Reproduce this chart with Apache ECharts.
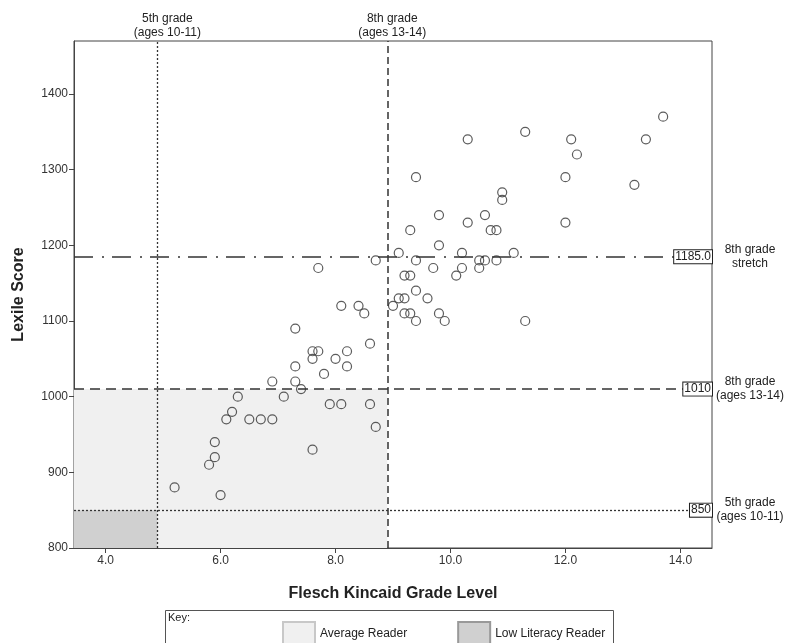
<!DOCTYPE html>
<html>
<head>
<meta charset="utf-8">
<script src="https://cdn.jsdelivr.net/npm/echarts@6/dist/echarts.min.js"></script>
<style>html,body{margin:0;padding:0;background:#fff}#c{width:791px;height:643px}</style>
</head>
<body>
<div id="c"></div>
<script>
// Flesch Kincaid grade level (x) and Lexile score (y) for each text
var gradeLevel = [5.2,5.8,5.9,5.9,6.0,6.1,6.2,6.3,6.5,6.7,6.9,6.9,7.1,7.3,7.3,7.3,7.4,7.6,7.6,7.6,7.7,7.7,7.8,7.9,8.0,8.1,8.1,8.2,8.2,8.4,8.5,8.6,8.6,8.7,8.7,9.0,9.1,9.1,9.2,9.2,9.2,9.3,9.3,9.3,9.4,9.4,9.4,9.4,9.6,9.7,9.8,9.8,9.8,9.9,10.1,10.2,10.2,10.3,10.3,10.5,10.5,10.6,10.6,10.7,10.8,10.8,10.9,10.9,11.1,11.3,11.3,12.0,12.0,12.1,12.2,13.2,13.4,13.7];
var lexileScore = [880,910,920,940,870,970,980,1000,970,970,970,1020,1000,1020,1040,1090,1010,930,1050,1060,1060,1170,1030,990,1050,990,1120,1040,1060,1120,1110,990,1070,960,1180,1120,1130,1190,1110,1130,1160,1110,1160,1220,1100,1140,1180,1290,1130,1170,1110,1200,1240,1100,1160,1170,1190,1230,1340,1170,1180,1180,1240,1220,1180,1220,1260,1270,1190,1100,1350,1230,1290,1340,1320,1280,1340,1370];

var xTicks = [4, 6, 8, 10, 12, 14];
var yTicks = [800, 900, 1000, 1100, 1200, 1300, 1400];
var xRange = [3.45, 14.55];
var yRange = [800, 1470];

// reference lines
var grade5Level = 4.9, grade8Level = 8.9;
var grade5Lexile = 850, grade8Lexile = 1010, grade8Stretch = 1185;

var points = gradeLevel.map(function (g, i) { return [g, lexileScore[i]]; });

var FONT = '"Liberation Sans", Arial, sans-serif';
var boxLabel = {
  show: true, position: 'end', align: 'right', distance: 0,
  backgroundColor: '#fff', borderColor: '#222', borderWidth: 1,
  padding: [1, 1, 0, 1], fontSize: 12, color: '#222', fontFamily: FONT
};
var sideLabel = {
  position: 'end', distance: 38, align: 'center', fontSize: 12, color: '#222',
  lineHeight: 14, fontFamily: FONT
};
var topLabel = { position: 'end', distance: 1, fontSize: 12, color: '#222', lineHeight: 14, fontFamily: FONT };

var chart = echarts.init(document.getElementById('c'), null, { renderer: 'canvas' });
chart.setOption({
  animation: false,
  backgroundColor: '#fff',
  textStyle: { fontFamily: FONT },
  grid: { left: 74, right: 79, top: 41, bottom: 95, show: true, borderColor: '#444', borderWidth: 1, containLabel: false },
  xAxis: {
    type: 'value', min: xRange[0], max: xRange[1],
    name: 'Flesch Kincaid Grade Level', nameLocation: 'middle', nameGap: 38,
    nameTextStyle: { fontSize: 16, fontWeight: 'bold', color: '#222', fontFamily: FONT },
    axisLine: { lineStyle: { color: '#444' } },
    axisTick: { show: true, length: 5, lineStyle: { color: '#444' }, customValues: xTicks },
    axisLabel: { customValues: xTicks, formatter: function (v) { return v.toFixed(1); }, color: '#333', fontSize: 12, margin: 7 },
    splitLine: { show: false }
  },
  yAxis: {
    type: 'value', min: yRange[0], max: yRange[1],
    name: 'Lexile Score', nameLocation: 'middle', nameGap: 47, nameRotate: 90,
    nameTextStyle: { fontSize: 16, fontWeight: 'bold', color: '#222', fontFamily: FONT },
    axisLine: { show: true, lineStyle: { color: '#444' } },
    axisTick: { show: true, length: 5, lineStyle: { color: '#444' }, customValues: yTicks },
    axisLabel: { customValues: yTicks, formatter: function (v) { return String(v); }, color: '#333', fontSize: 12, margin: 6 },
    splitLine: { show: false }
  },
  legend: {
    left: 277, top: 616, itemWidth: 32, itemHeight: 23, itemGap: 50, icon: 'rect',
    textStyle: { fontSize: 12, color: '#222', fontFamily: FONT },
    data: ['Average Reader', 'Low Literacy Reader']
  },
  graphic: [
    { type: 'rect', left: 165, top: 610, shape: { width: 448, height: 40 }, style: { fill: '#fff', stroke: '#555', lineWidth: 1 }, z: -1 },
    { type: 'text', left: 168, top: 612, style: { text: 'Key:', fontSize: 11, fill: '#222', fontFamily: FONT } }
  ],
  series: [
    {
      name: 'Average Reader', type: 'line', data: [], symbol: 'rect',
      itemStyle: { color: '#f0f0f0', borderColor: '#c8c8c8', borderWidth: 1 },
      lineStyle: { width: 0 },
      markArea: { silent: true, itemStyle: { color: '#f0f0f0' },
        data: [[{ xAxis: xRange[0], yAxis: yRange[0] }, { xAxis: grade8Level, yAxis: grade8Lexile }]] }
    },
    {
      name: 'Low Literacy Reader', type: 'line', data: [], symbol: 'rect',
      itemStyle: { color: '#d0d0d0', borderColor: '#999', borderWidth: 1 },
      lineStyle: { width: 0 },
      markArea: { silent: true, itemStyle: { color: '#d0d0d0' },
        data: [[{ xAxis: xRange[0], yAxis: yRange[0] }, { xAxis: grade5Level, yAxis: grade5Lexile }]] }
    },
    {
      name: 'refs', type: 'line', data: [], z: 3,
      markLine: {
        silent: true, symbol: 'none', animation: false,
        data: [
          { xAxis: grade5Level, lineStyle: { type: [2, 2], color: '#333', width: 1.3 },
            label: Object.assign({}, topLabel, { formatter: '5th grade\n(ages 10-11)', offset: [10, 0] }) },
          { xAxis: grade8Level, lineStyle: { type: [7, 4], color: '#333', width: 1.5 },
            label: Object.assign({}, topLabel, { formatter: '8th grade\n(ages 13-14)', offset: [5, 0] }) },
          { yAxis: grade8Stretch, lineStyle: { type: [19, 9, 2, 8], color: '#333', width: 1.5 },
            label: Object.assign({}, sideLabel, { formatter: '8th grade\nstretch' }) },
          { yAxis: grade8Lexile, lineStyle: { type: [10, 6], color: '#333', width: 1.5 },
            label: Object.assign({}, sideLabel, { formatter: '8th grade\n(ages 13-14)' }) },
          { yAxis: grade5Lexile, lineStyle: { type: [2, 2], color: '#333', width: 1.3 },
            label: Object.assign({}, sideLabel, { formatter: '5th grade\n(ages 10-11)' }) }
        ]
      }
    },
    {
      name: 'boxes', type: 'line', data: [], z: 4,
      markLine: {
        silent: true, symbol: 'none', animation: false,
        lineStyle: { width: 0, color: 'rgba(0,0,0,0)' },
        data: [
          { yAxis: grade8Stretch, label: Object.assign({}, boxLabel, { formatter: grade8Stretch.toFixed(1) }) },
          { yAxis: grade8Lexile, label: Object.assign({}, boxLabel, { formatter: String(grade8Lexile) }) },
          { yAxis: grade5Lexile, label: Object.assign({}, boxLabel, { formatter: String(grade5Lexile) }) }
        ]
      }
    },
    {
      name: 'texts', type: 'scatter', data: points, z: 5,
      symbol: 'circle', symbolSize: 9,
      itemStyle: { color: 'rgba(255,255,255,0)', borderColor: '#333', borderWidth: 1.2 }
    }
  ]
});
</script>
</body>
</html>
